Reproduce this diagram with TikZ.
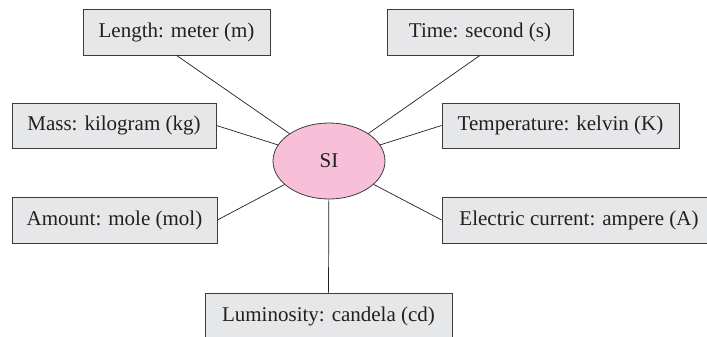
\documentclass[tikz,border=0pt]{standalone}
\usepackage{fontspec}
\setmainfont{Liberation Serif}
\usetikzlibrary{shapes.geometric}
\definecolor{boxfill}{RGB}{230,231,232}
\definecolor{pinkfill}{RGB}{247,192,216}
\definecolor{inkc}{RGB}{35,31,32}
\definecolor{edgec}{RGB}{60,60,60}
\begin{document}
\begin{tikzpicture}[x=1pt,y=-1pt,
  unitbox/.style={draw=edgec,line width=0.8pt,fill=boxfill,text=inkc,
    font=\fontsize{21}{24}\selectfont,inner sep=0pt,minimum height=46pt},
  link/.style={draw=inkc,line width=0.7pt}]
\useasboundingbox (0,0) rectangle (707,337);
\begin{scope}
\clip (0,0) rectangle (707,337);
\node[ellipse,draw=edgec,line width=0.8pt,fill=pinkfill,text=inkc,
  minimum width=112pt,minimum height=76pt,inner sep=0pt,
  font=\fontsize{21}{24}\selectfont] (si) at (329,161) {SI};
\node[unitbox,minimum width=187pt] (len) at (176.5,32) {Length: meter (m)};
\node[unitbox,minimum width=186pt] (time) at (480,32) {Time: second (s)};
\node[unitbox,minimum width=204pt,minimum height=45pt] (mass) at (114,125.5) {Mass: kilogram (kg)};
\node[unitbox,minimum width=237pt,minimum height=45pt] (temp) at (560.5,125.5) {Temperature: kelvin (K)};
\node[unitbox,minimum width=205pt] (amt) at (114.5,220) {Amount: mole (mol)};
\node[unitbox,minimum width=274pt] (cur) at (579,220) {Electric current: ampere (A)};
\node[unitbox,minimum width=247pt] (lum) at (328.5,316) {Luminosity: candela (cd)};
\draw[link] (len.south) -- (si);
\draw[link] (time.south) -- (si);
\draw[link] (mass.east) -- (si);
\draw[link] (temp.west) -- (si);
\draw[link] (amt.east) -- (si);
\draw[link] (cur.west) -- (si);
\draw[link] (lum.north) -- (si);
\end{scope}
\end{tikzpicture}
\end{document}
